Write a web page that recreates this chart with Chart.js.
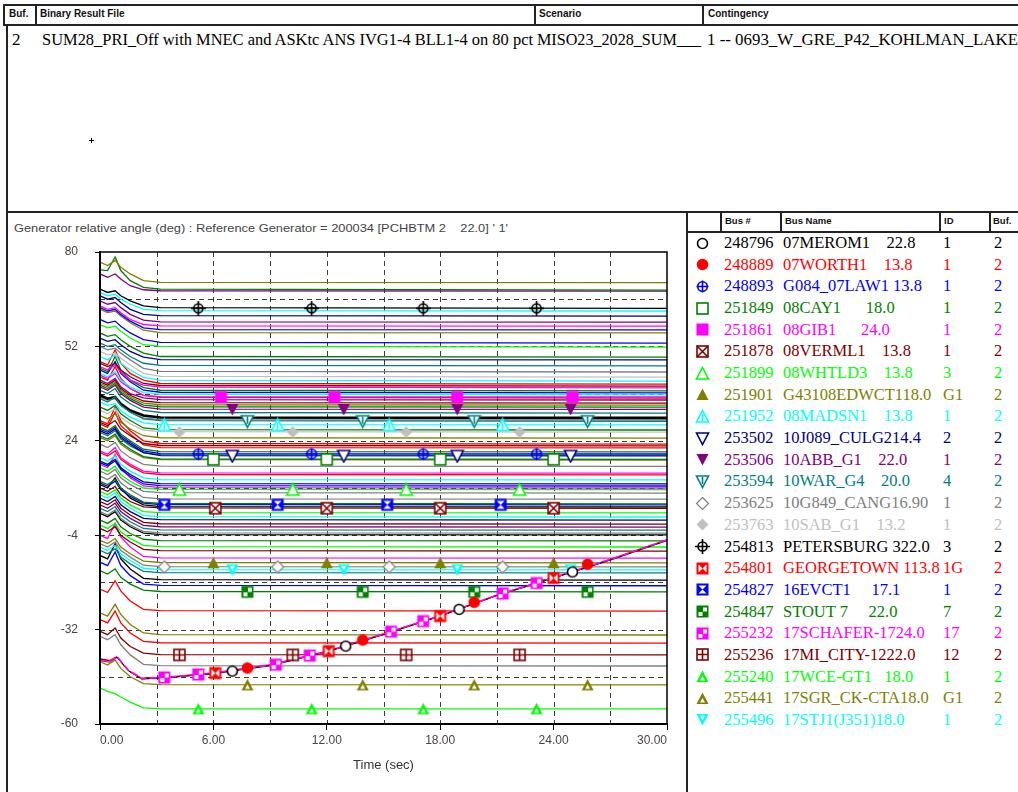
<!DOCTYPE html>
<html>
<head>
<meta charset="utf-8">
<script src="https://cdn.jsdelivr.net/npm/chart.js@4.4.0/dist/chart.umd.min.js"></script>
<style>
body{margin:0;width:1018px;height:792px;overflow:hidden;background:#fff;position:relative;font-family:"Liberation Sans",Arial,sans-serif}
.ln{position:absolute;background:#222}
.hd{position:absolute;font-weight:bold;font-size:10px;color:#111;white-space:pre;line-height:12px}
.sf{position:absolute;font-family:"Liberation Serif","Times New Roman",serif;white-space:pre}
#plot{position:absolute;left:8px;top:213px}
</style>
</head>
<body>
<!-- header frame -->
<div class="ln" style="left:3px;top:4px;width:1015px;height:2px"></div>
<div class="ln" style="left:3px;top:24px;width:1015px;height:2px"></div>
<div class="ln" style="left:3px;top:4px;width:2px;height:22px"></div>
<div class="ln" style="left:35px;top:4px;width:2px;height:22px"></div>
<div class="ln" style="left:534px;top:4px;width:2px;height:22px"></div>
<div class="ln" style="left:702px;top:4px;width:2px;height:22px"></div>
<div class="ln" style="left:6px;top:25px;width:2px;height:767px"></div>
<div class="ln" style="left:6px;top:211px;width:1012px;height:2px"></div>
<div class="ln" style="left:686px;top:212px;width:2px;height:580px"></div>
<div class="ln" style="left:720px;top:212px;width:2px;height:20px"></div>
<div class="ln" style="left:780px;top:212px;width:2px;height:20px"></div>
<div class="ln" style="left:939px;top:212px;width:2px;height:20px"></div>
<div class="ln" style="left:989px;top:212px;width:2px;height:20px"></div>
<div class="ln" style="left:686px;top:231px;width:332px;height:2px"></div>

<div class="hd" style="left:9px;top:8px">Buf.</div>
<div class="hd" style="left:40px;top:8px">Binary Result File</div>
<div class="hd" style="left:539px;top:8px">Scenario</div>
<div class="hd" style="left:708px;top:8px">Contingency</div>

<div class="sf" style="left:12px;top:30px;font-size:17px">2</div>
<div class="sf" style="left:42px;top:30px;font-size:17px" data-w="491">SUM28_PRI_Off with MNEC and ASKtc ANS IVG1-4 BLL1-4 on 80 pct</div>
<div class="sf" style="left:537px;top:30px;font-size:17px" data-w="164">MISO23_2028_SUM___</div>
<div class="sf" style="left:707px;top:30px;font-size:17px" data-w="311">1 -- 0693_W_GRE_P42_KOHLMAN_LAKE</div>

<div class="ln" style="left:89px;top:140px;width:5px;height:1px;background:#000"></div>
<div class="ln" style="left:91px;top:138px;width:1px;height:5px;background:#000"></div>

<div class="hd" style="left:725px;top:215px;font-size:9.5px">Bus #</div>
<div class="hd" style="left:785px;top:215px;font-size:9.5px">Bus Name</div>
<div class="hd" style="left:944px;top:215px;font-size:9.5px">ID</div>
<div class="hd" style="left:993px;top:215px;font-size:9.5px">Buf.</div>

<div style="position:absolute;left:14px;top:222px;font-size:11px;color:#444;white-space:pre;line-height:13px" data-w="494">Generator relative angle (deg) : Reference Generator = 200034 [PCHBTM 2    22.0] ' 1'</div>

<canvas id="plot" width="677" height="579"></canvas>

<script>
// channel data (time in sec, angle in deg)
var tSettle = [0, 0.4, 0.8, 1.1, 1.6, 2.3, 3.2, 30];
var tRise = [0, 0.5, 0.9, 1.5, 2.2, 3.5, 6, 9, 12, 15, 18, 21, 24, 27, 30];

var palette = {K:'#000000', R:'#ff0000', B:'#0000ff', G:'#008000', M:'#ff00ff', BR:'#800000', L:'#00ff00',
  O:'#808000', C:'#00ffff', N:'#000080', P:'#800080', T:'#008080', GR:'#808080', S:'#c0c0c0'};

var lineColor = ['O','G','P','K','C','N','P','M','B','O','B','L','G','N','T','GR','S','C','R','BR','M','G','B','C',
  'M','R','P','BR','O','G','P','T','T','K','GR','C','G','S','O','R','BR','R','G','N','B','T','G','O','GR',
  'M','R','C','N','B','M','L','GR','GR','G','B','K','BR','L','C','N','BR','P','T','GR','K','G','L','BR','M',
  'O','GR','C','T','K','B','G','R','O','R','BR','GR','O','L'];
var thickLine = 33;

var lineValues = [
  [77, 76, 77.5, 75.5, 73.5, 71.5, 71, 70.9],
  [74.7, 74.5, 78.5, 74.5, 71.5, 69.5, 69, 68.7],
  [73.5, 72.5, 73.5, 72, 70, 68.8, 68.5, 68.4],
  [69, 68, 68.5, 67, 65.5, 64, 63.5, 63.3],
  [68, 67, 67.5, 66, 64.5, 63, 62.6, 62.5],
  [67, 66, 66.5, 65, 63, 61.5, 61.1, 61],
  [65.5, 64.5, 65, 63.5, 61.5, 59.8, 59.3, 59.2],
  [64, 63, 63.5, 62, 60, 58.5, 58.1, 58],
  [63.5, 62.5, 63, 61.5, 59.5, 57.5, 57, 56.9],
  [63, 62, 62.5, 61, 59, 56.8, 56.1, 56],
  [60, 59, 59.5, 58, 56, 54, 53.2, 53],
  [58.5, 57.5, 58, 56.5, 54.5, 52.5, 52, 51.8],
  [56, 55, 55.5, 54, 52, 50, 49, 48.8],
  [54.5, 53.5, 54, 52.5, 50.5, 48.8, 48.1, 48],
  [53, 52, 52.5, 51, 49, 47, 46.4, 46.2],
  [52, 51, 51.5, 50, 48, 45.5, 44.6, 44.4],
  [50.5, 49.5, 50, 48.5, 46.5, 44, 43.1, 42.9],
  [49, 48, 49.5, 47, 45, 42.8, 41.9, 41.7],
  [47.5, 46.5, 51, 47, 44, 42, 41, 40.8],
  [47, 46, 47, 45, 43, 41, 40.4, 40.2],
  [46, 45, 46.5, 44.5, 42, 40.5, 39.9, 39.7],
  [45.5, 44.5, 49, 45, 42, 39.8, 39, 38.8],
  [45, 44, 47.5, 44, 41.5, 39, 38.4, 38.2],
  [44, 43, 44.5, 42, 40, 38.3, 37.8, 37.6],
  [43.5, 42.5, 44, 41.5, 39.5, 37.5, 37.1, 37],
  [43, 42, 46, 42.5, 39.5, 37.5, 36.9, 36.7],
  [42, 41, 42.5, 40, 38, 36.7, 36.2, 36.1],
  [41.5, 40.5, 42, 39.5, 37.5, 35.8, 35.3, 35.2],
  [41, 40, 41.5, 39, 37, 35.2, 34.7, 34.6],
  [40.5, 39.5, 41, 38.5, 36.5, 34.6, 34.1, 34],
  [40, 39, 40.5, 38, 36, 34, 33.4, 33.3],
  [39, 38, 39.5, 37, 35, 33, 32.4, 32.2],
  [36.5, 35.5, 37, 34.5, 32.5, 30.5, 30, 29.8],
  [37.5, 36.5, 37, 35, 33, 31.5, 30.9, 30.8],
  [37, 36, 36.5, 34.5, 32.5, 30.8, 30.3, 30.2],
  [35.5, 34.5, 35, 33, 31, 29.3, 28.8, 28.7],
  [34, 33, 34.5, 32, 30, 27.8, 27.3, 27.2],
  [33, 32, 33.5, 31, 29, 27.2, 26.7, 26.6],
  [31.5, 30.5, 32, 29.5, 27.5, 25.5, 24.9, 24.8],
  [30, 29, 34, 30, 27, 24, 23.2, 23],
  [29.5, 28.5, 30, 27.5, 25.5, 23.2, 22.6, 22.5],
  [29, 28, 32.5, 28.5, 26, 22.8, 22, 21.9],
  [28, 27, 28.5, 26, 24, 21.5, 20.8, 20.7],
  [27, 26, 27.5, 25, 23, 20.5, 19.6, 19.5],
  [27.5, 26.5, 28, 25.5, 23.5, 21, 20.2, 20.1],
  [26.5, 25.5, 27, 24.5, 22.5, 20.5, 19.9, 19.8],
  [25.5, 24.5, 26, 23.5, 21.5, 19.3, 18.6, 18.5],
  [25, 24, 25.5, 23, 21, 19, 18.4, 18.3],
  [23, 22, 23.5, 21, 19, 17, 16.5, 16.4],
  [21, 20, 22, 19, 17, 15, 14.5, 14.4],
  [20.5, 19.5, 21, 18.5, 16.5, 14.5, 14, 13.9],
  [19, 18, 19.5, 17, 15, 13, 12.5, 12.4],
  [18, 17, 18.5, 16, 14, 11.8, 11.3, 11.2],
  [17.5, 16.5, 18, 15.5, 13.5, 11.2, 10.7, 10.6],
  [17, 16, 20, 16, 13, 10.6, 10.1, 10],
  [16, 15, 16.5, 14, 12, 10, 9.6, 9.5],
  [15, 14, 15.5, 13, 11, 9, 8.6, 8.5],
  [13.5, 12.5, 14, 11.5, 9.5, 7.2, 6.8, 6.7],
  [12, 11, 12.5, 10, 8, 5.8, 5.4, 5.3],
  [11.5, 10.5, 12, 9.5, 7.5, 5.5, 5.1, 5],
  [11, 10, 13, 10, 7, 5, 4.5, 4.4],
  [10, 9, 10.5, 8, 6, 4.4, 4.1, 4],
  [9, 8, 9.5, 7, 5, 3, 2.7, 2.6],
  [8, 7, 8.5, 6, 4, 1.8, 1.5, 1.4],
  [7, 6, 7.5, 5, 3, 1, 0.6, 0.5],
  [6, 5, 6.5, 4, 2, -0.2, -0.6, -0.7],
  [5, 4, 5.5, 3, 1, -1.1, -1.5, -1.6],
  [4, 3, 4.5, 2, 0, -2, -2.4, -2.5],
  [3, 2, 3.5, 1, -1, -2.9, -3.3, -3.4],
  [2.5, 1.5, 3, 0.5, -1.5, -3.4, -3.8, -3.9],
  [0.5, -0.5, 1, -1.5, -3.5, -5.2, -5.6, -5.7],
  [-1, -2, -0.5, -3, -5, -7, -7.4, -7.5],
  [-2, -3, -1.5, -4, -6, -8.2, -8.6, -8.7],
  [-4, -5, -0.5, -4.5, -7.5, -10.3, -10.7, -10.8],
  [-5.5, -6.5, -5, -7.5, -9.5, -11.7, -12.1, -12.2],
  [-6.5, -7.5, -6, -8.5, -10.5, -12.9, -13.3, -13.4],
  [-7.5, -8.5, -7, -9.5, -11.5, -13.8, -14.2, -14.3],
  [-8.5, -9.5, -8, -10.5, -12.5, -14.7, -15.1, -15.2],
  [-10, -11, -6.5, -11, -14, -16.8, -17.2, -17.3],
  [-12, -13, -9, -13, -16, -18.5, -18.9, -19],
  [-14.5, -15.5, -14, -16.5, -18.5, -20.3, -20.7, -20.8],
  [-20, -21, -17.5, -20.5, -23.5, -26, -26.4, -26.5],
  [-27, -28, -24.5, -27.5, -30.5, -33, -33.5, -33.6],
  [-29, -30, -26.5, -30, -33, -35.5, -35.9, -36],
  [-32.5, -33.5, -31.5, -34.5, -37, -39, -39.4, -39.5],
  [-34, -35, -33.5, -36.5, -39.5, -42.3, -42.7, -42.8],
  [-41.5, -42.5, -41, -43.5, -46, -48, -48.3, -48.4],
  [-49.3, -50.3, -51, -52, -53.5, -55.2, -55.5, -55.5]
];

// the generators pulling away (drawn along tRise)
var riseColor = ['K', 'R', 'R', 'M'];
var riseValues = [
  [-40.8, -41.3, -40.2, -44.2, -46.6, -46.3, -45.1, -42.7, -38.6, -33.5, -28, -21.9, -16.7, -11.4, -5.6],
  [-40.6, -41.1, -40, -44.1, -46.4, -46.1, -44.8, -42.4, -38.4, -33.2, -27.8, -21.7, -16.5, -11.1, -5.3],
  [-41.2, -41.7, -40.3, -44.2, -46.7, -46.3, -45, -42.6, -38.6, -33.4, -28, -21.9, -16.7, -11.3, -5.5],
  [-41, -41.5, -40, -44, -46.5, -46.2, -44.9, -42.5, -38.5, -33.3, -27.9, -21.8, -16.6, -11.2, -5.4]
];

// legend table
var busNum = ['248796','248889','248893','251849','251861','251878','251899','251901','251952','253502','253506',
  '253594','253625','253763','254813','254801','254827','254847','255232','255236','255240','255441','255496'];
var busName = ['07MEROM1    22.8','07WORTH1    13.8','G084_07LAW1 13.8','08CAY1      18.0','08GIB1      24.0',
  '08VERML1    13.8','08WHTLD3    13.8','G43108EDWCT118.0','08MADSN1    13.8','10J089_CULG214.4','10ABB_G1    22.0',
  '10WAR_G4    20.0','10G849_CANG16.90','10SAB_G1    13.2','PETERSBURG 322.0','GEORGETOWN 113.8','16EVCT1     17.1',
  'STOUT 7     22.0','17SCHAFER-1724.0','17MI_CITY-1222.0','17WCE-GT1   18.0','17SGR_CK-CTA18.0','17STJ1(J351)18.0'];
var busId = ['1','1','1','1','1','1','3','G1','1','2','1','4','1','1','3','1G','1','7','17','12','1','G1','1'];
var busBuf = ['2','2','2','2','2','2','2','2','2','2','2','2','2','2','2','2','2','2','2','2','2','2','2'];
var legendColor = ['#000000','#ff0000','#0000ff','#008000','#ff00ff','#800000','#00ff00','#808000','#00ffff','#000080',
  '#800080','#008080','#808080','#c0c0c0','#000000','#ff0000','#0000ff','#008000','#ff00ff','#800000','#00ff00','#808000','#00ffff'];
var legendMarker = ['circle','dot','circlePlus','square','squareFill','squareX','tri','triFill','triLine','inv','invFill',
  'invLine','diamond','diamondFill','crosshair','bowtieH','bowtieV','corner','corner','grid','triWhite','triWhite','invWhite'];

// where each channel's symbol shows up on the plot
var markerPts = [
  [[7,-44.3],[13,-36.9],[19,-26],[25,-14.9]],
  [[7.8,-43.4],[13.9,-35.1],[19.8,-23.9],[25.8,-12.6]],
  [[5.2,20.1],[11.2,20.1],[17.1,20.1],[23.1,20.1]],
  [[6,18.5],[12,18.5],[18,18.5],[24,18.5]],
  [[6.4,37],[12.4,37],[18.9,37],[25,37]],
  [[6.1,4],[12,4],[18,4],[24,4]],
  [[4.2,9.5],[10.2,9.5],[16.2,9.5],[22.2,9.5]],
  [[6,-12.2],[12,-12.2],[18,-12.2],[24,-12.2]],
  [[3.4,28.7],[9.4,28.7],[15.3,28.7],[21.3,28.7]],
  [[7,19.5],[12.9,19.5],[18.9,19.5],[24.9,19.5]],
  [[7,33.3],[12.9,33.3],[18.9,33.3],[24.9,33.3]],
  [[7.8,29.8],[13.9,29.8],[19.8,29.8],[25.8,29.8]],
  [[3.4,-13.4],[9.4,-13.4],[15.3,-13.4],[21.3,-13.4]],
  [[4.2,26.6],[10.2,26.6],[16.2,26.6],[22.2,26.6]],
  [[5.2,63.3],[11.2,63.3],[17.1,63.3],[23.1,63.3]],
  [[6.1,-44.9],[12.1,-38.4],[18,-28],[24,-16.7]],
  [[3.4,5],[9.4,5],[15.2,5],[21.2,5]],
  [[7.8,-20.8],[13.9,-20.8],[19.8,-20.8],[25.8,-20.8]],
  [[3.4,-46.2],[5.2,-45.3],[9.3,-42.4],[11.1,-39.7],[15.4,-32.6],[17.1,-29.5],[21.3,-21.3],[23.1,-18.2]],
  [[4.2,-39.5],[10.2,-39.5],[16.2,-39.5],[22.2,-39.5]],
  [[5.2,-55.5],[11.2,-55.5],[17.1,-55.5],[23.1,-55.5]],
  [[7.8,-48.4],[13.9,-48.4],[19.8,-48.4],[25.8,-48.4]],
  [[7,-14.3],[12.9,-14.3],[18.9,-14.3],[24.9,-14.3]]
];

function makeMarker(type, color) {
  var c = document.createElement('canvas');
  c.width = 15; c.height = 15;
  var g = c.getContext('2d');
  var m = 7.5;
  g.strokeStyle = color; g.fillStyle = color; g.lineWidth = 1.6;
  function poly(p) {
    g.beginPath(); g.moveTo(p[0][0], p[0][1]);
    for (var k = 1; k < p.length; k++) g.lineTo(p[k][0], p[k][1]);
    g.closePath();
  }
  var up = [[7.5,1.5],[13.5,13],[1.5,13]];
  var dn = [[1.5,2],[13.5,2],[7.5,13.5]];
  var dia = [[7.5,1.5],[13.5,7.5],[7.5,13.5],[1.5,7.5]];
  switch (type) {
    case 'circle': g.beginPath(); g.arc(m,m,5,0,7); g.fillStyle='#fff'; g.fill(); g.stroke(); break;
    case 'dot': g.beginPath(); g.arc(m,m,5.8,0,7); g.fill(); break;
    case 'circlePlus': g.beginPath(); g.arc(m,m,4.8,0,7); g.stroke();
      g.beginPath(); g.moveTo(1.5,m); g.lineTo(13.5,m); g.moveTo(m,1.5); g.lineTo(m,13.5); g.stroke(); break;
    case 'crosshair': g.beginPath(); g.arc(m,m,4.5,0,7); g.stroke();
      g.beginPath(); g.moveTo(0,m); g.lineTo(15,m); g.moveTo(m,0); g.lineTo(m,15); g.stroke(); break;
    case 'square': g.fillStyle='#fff'; g.fillRect(2,2,11,11); g.strokeRect(2,2,11,11); break;
    case 'squareFill': g.fillRect(1.5,1.5,12,12); break;
    case 'squareX': g.fillStyle='#fff'; g.fillRect(2,2,11,11); g.strokeRect(2,2,11,11);
      g.beginPath(); g.moveTo(2,2); g.lineTo(13,13); g.moveTo(13,2); g.lineTo(2,13); g.stroke(); break;
    case 'grid': g.fillStyle='#fff'; g.fillRect(2,2,11,11); g.strokeRect(2,2,11,11);
      g.beginPath(); g.moveTo(2,m); g.lineTo(13,m); g.moveTo(m,2); g.lineTo(m,13); g.stroke(); break;
    case 'tri': poly(up); g.fillStyle='#fff'; g.fill(); g.stroke(); break;
    case 'triFill': poly(up); g.fill(); break;
    case 'triLine': poly(up); g.fillStyle='#fff'; g.fill(); g.stroke();
      g.beginPath(); g.moveTo(m,5); g.lineTo(m,12); g.stroke(); break;
    case 'triWhite': poly(up); g.fill(); g.fillStyle='#fff'; poly([[7.5,7],[10,11.5],[5,11.5]]); g.fill(); break;
    case 'inv': poly(dn); g.fillStyle='#fff'; g.fill(); g.stroke(); break;
    case 'invFill': poly(dn); g.fill(); break;
    case 'invLine': poly(dn); g.fillStyle='#fff'; g.fill(); g.stroke();
      g.beginPath(); g.moveTo(m,3); g.lineTo(m,10); g.stroke(); break;
    case 'invWhite': poly(dn); g.fill(); g.fillStyle='#fff'; poly([[5,3.5],[10,3.5],[7.5,8]]); g.fill(); break;
    case 'diamond': g.lineWidth = 1.2; poly(dia); g.fillStyle='#fff'; g.fill(); g.stroke(); break;
    case 'diamondFill': poly(dia); g.fill(); break;
    case 'bowtieH': g.fillRect(1.5,1.5,12,12); g.fillStyle='#fff';
      poly([[3.5,3.5],[7.5,7.5],[3.5,11.5]]); g.fill(); poly([[11.5,3.5],[7.5,7.5],[11.5,11.5]]); g.fill(); break;
    case 'bowtieV': g.fillRect(1.5,1.5,12,12); g.fillStyle='#fff';
      poly([[3.5,3.5],[11.5,3.5],[7.5,7.5]]); g.fill(); poly([[3.5,11.5],[11.5,11.5],[7.5,7.5]]); g.fill(); break;
    case 'corner': g.fillRect(1.5,1.5,12,12); g.fillStyle='#fff'; g.fillRect(8,3.5,4,4); g.fillRect(3.5,8,4,4); break;
  }
  return c;
}

var markers = legendMarker.map(function(t, i){ return makeMarker(t, legendColor[i]); });

// legend rows
busNum.forEach(function(num, i){
  var yc = 243 + i * 21.68;
  var img = document.createElement('img');
  img.src = markers[i].toDataURL();
  img.style.cssText = 'position:absolute;left:695px;top:' + (yc - 7.5) + 'px';
  document.body.appendChild(img);
  [[724, num], [783, busName[i]], [943, busId[i]], [994, busBuf[i]]].forEach(function(cell){
    var d = document.createElement('div');
    d.className = 'sf';
    d.style.cssText = 'left:' + cell[0] + 'px;top:' + (yc - 10) + 'px;font-size:16.5px;line-height:20px;color:' + legendColor[i];
    d.textContent = cell[1];
    document.body.appendChild(d);
  });
});

// squeeze header texts to the widths they take in the report
document.querySelectorAll('[data-w]').forEach(function(el){
  var w = el.getBoundingClientRect().width;
  el.style.transformOrigin = '0 0';
  el.style.transform = 'scaleX(' + (+el.dataset.w / w) + ')';
});

var datasets = [];
markerPts.forEach(function(pts, i){
  datasets.push({
    data: pts.map(function(p){ return {x: p[0], y: p[1]}; }),
    showLine: false, pointStyle: markers[i], pointRadius: 6, order: 0
  });
});
riseValues.forEach(function(vals, i){
  var mag = riseColor[i] === 'M';
  datasets.push({
    data: vals.map(function(v, k){ return {x: tRise[k], y: v}; }),
    borderColor: palette[riseColor[i]], borderWidth: mag ? 1.6 : 1,
    borderDash: mag ? [7, 3] : [], pointRadius: 0, order: mag ? 1 : 2
  });
});
lineValues.forEach(function(vals, i){
  datasets.push({
    data: vals.map(function(v, k){ return {x: tSettle[k], y: v}; }),
    borderColor: palette[lineColor[i]], borderWidth: i === thickLine ? 2.6 : 1.3,
    pointRadius: 0, order: 3
  });
});

var plotFrame = {
  id: 'plotFrame',
  beforeDatasetsDraw: function(chart){
    var a = chart.chartArea, ctx = chart.ctx, sx = chart.scales.x, sy = chart.scales.y;
    ctx.save();
    ctx.strokeStyle = '#3a3a3a'; ctx.lineWidth = 1; ctx.setLineDash([5, 4]);
    ctx.beginPath();
    sx.ticks.forEach(function(t){
      if (t.value > sx.min && t.value < sx.max) {
        var px = Math.round(sx.getPixelForValue(t.value)) + 0.5;
        ctx.moveTo(px, a.top); ctx.lineTo(px, a.bottom);
      }
    });
    sy.ticks.forEach(function(t){
      if (t.value > sy.min && t.value < sy.max) {
        var py = Math.round(sy.getPixelForValue(t.value)) + 0.5;
        ctx.moveTo(a.left, py); ctx.lineTo(a.right, py);
      }
    });
    ctx.stroke();
    ctx.restore();
  },
  afterDatasetsDraw: function(chart){
    var a = chart.chartArea, ctx = chart.ctx;
    ctx.save();
    ctx.strokeStyle = '#000';
    ctx.lineWidth = 1.5;
    ctx.strokeRect(a.left, a.top, a.right - a.left, a.bottom - a.top);
    ctx.lineWidth = 2;
    ctx.beginPath();
    ctx.moveTo(a.left, a.top); ctx.lineTo(a.left, a.bottom); ctx.lineTo(a.right, a.bottom);
    ctx.stroke();
    ctx.restore();
  }
};

var tickFont = {family: '"Liberation Sans", Arial, sans-serif', size: 12};

new Chart(document.getElementById('plot'), {
  type: 'line',
  data: {datasets: datasets},
  options: {
    responsive: false,
    animation: false,
    events: [],
    layout: {padding: {left: 0, right: 18, top: 39, bottom: 0}},
    elements: {line: {tension: 0}},
    plugins: {legend: {display: false}, tooltip: {enabled: false}},
    scales: {
      x: {
        type: 'linear', min: 0, max: 30,
        afterFit: function(scale){ scale.height = 68; },
        grid: {
          drawOnChartArea: false, tickLength: 6,
          tickColor: function(c){ return c.tick && c.tick.value % 6 === 0 ? '#000' : 'rgba(0,0,0,0)'; }
        },
        border: {display: true, color: '#000', width: 2},
        ticks: {
          stepSize: 3, autoSkip: false, maxRotation: 0, align: 'inner', padding: 3,
          color: '#4a4440', font: tickFont,
          callback: function(v){ return v % 6 === 0 ? v.toFixed(2) : ''; }
        },
        title: {display: true, text: 'Time (sec)', color: '#333',
          font: {family: '"Liberation Sans", Arial, sans-serif', size: 13}, padding: {top: 0, bottom: 19}}
      },
      y: {
        type: 'linear', min: -60, max: 80,
        afterFit: function(scale){ scale.width = 92; },
        grid: {
          drawOnChartArea: false, tickLength: 5,
          tickColor: function(c){ return c.tick && (c.tick.value + 60) % 28 === 0 ? '#000' : 'rgba(0,0,0,0)'; }
        },
        border: {display: true, color: '#000', width: 2},
        ticks: {
          stepSize: 14, autoSkip: false, padding: 17,
          color: '#4a4440', font: tickFont,
          callback: function(v){ return (v + 60) % 28 === 0 ? String(v) : ''; }
        }
      }
    }
  },
  plugins: [plotFrame]
});
</script>
</body>
</html>
